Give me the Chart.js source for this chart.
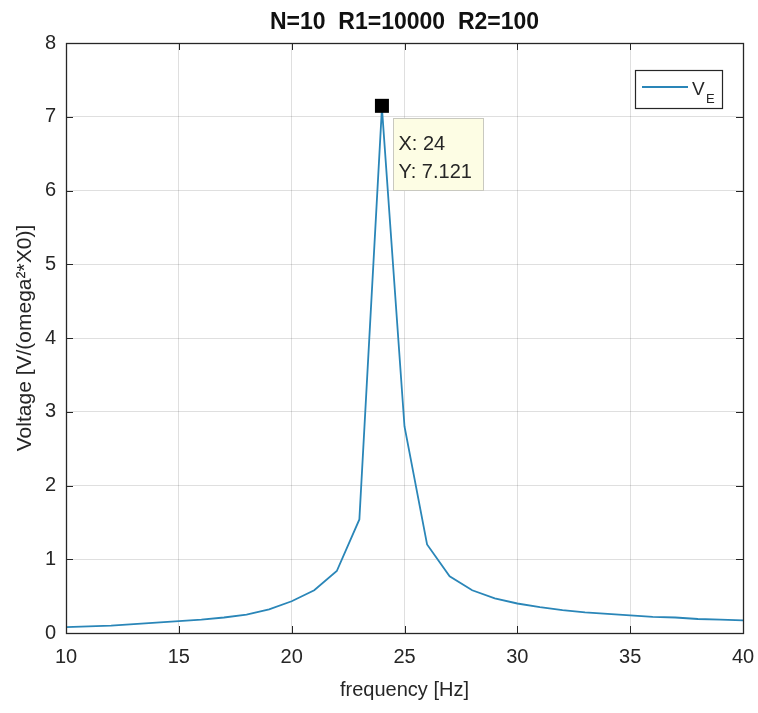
<!DOCTYPE html>
<html>
<head>
<meta charset="utf-8">
<script src="https://cdn.jsdelivr.net/npm/chart.js@4.4.1/dist/chart.umd.min.js"></script>
<style>
  html, body { margin: 0; padding: 0; background: #fff; }
</style>
</head>
<body>
<canvas id="plot" width="758" height="713"></canvas>
<script>
/* Resonance curve, MATLAB-style figure */

const chartTitle = 'N=10  R1=10000  R2=100';
const xLabel = 'frequency [Hz]';
const yLabel = 'Voltage [V/(omega\u00b2*X0)]';
const seriesName = 'V';
const seriesSub = 'E';

const frequency = [10, 11, 12, 13, 14, 15, 16, 17, 18, 19, 20, 21, 22, 23, 24, 25,
                   26, 27, 28, 29, 30, 31, 32, 33, 34, 35, 36, 37, 38, 39, 40];
const voltage   = [0.08, 0.09, 0.10, 0.12, 0.14, 0.16, 0.18, 0.21, 0.25, 0.32, 0.43, 0.58, 0.84, 1.54, 7.121, 2.80,
                   1.20, 0.77, 0.58, 0.47, 0.40, 0.35, 0.31, 0.28, 0.26, 0.24, 0.22, 0.21, 0.19, 0.18, 0.17];

const xRange = [10, 40];
const yRange = [0, 8];
const tipX = 24;
const tipY = 7.121;

const FONT = "'Liberation Sans', Arial, Helvetica, sans-serif";
const INK = '#262626';
const LINE = '#2a86b8';

const matlabFrame = {
  id: 'matlabFrame',
  afterDraw(chart) {
    const { ctx, chartArea: a, scales: { x, y } } = chart;
    ctx.save();

    // inward tick marks on all four sides
    ctx.strokeStyle = INK;
    ctx.lineWidth = 1;
    ctx.beginPath();
    x.ticks.forEach(t => {
      const px = Math.round(x.getPixelForValue(t.value)) + 0.5;
      ctx.moveTo(px, a.bottom); ctx.lineTo(px, a.bottom - 7);
      ctx.moveTo(px, a.top);    ctx.lineTo(px, a.top + 7);
    });
    y.ticks.forEach(t => {
      const py = Math.round(y.getPixelForValue(t.value)) + 0.5;
      ctx.moveTo(a.left, py);  ctx.lineTo(a.left + 7, py);
      ctx.moveTo(a.right, py); ctx.lineTo(a.right - 7, py);
    });
    ctx.stroke();

    // axes box
    ctx.lineWidth = 1.3;
    ctx.strokeRect(a.left + 0.5, a.top + 0.5, a.right - a.left, a.bottom - a.top);

    // title
    ctx.fillStyle = '#111';
    ctx.font = 'bold 23px ' + FONT;
    ctx.textAlign = 'center';
    ctx.textBaseline = 'alphabetic';
    ctx.fillText(chartTitle, (a.left + a.right) / 2, 29);

    // legend
    const lx = a.right - 108, ly = a.top + 27, lw = 87, lh = 38;
    ctx.fillStyle = '#fff';
    ctx.fillRect(lx, ly, lw, lh);
    ctx.strokeStyle = INK;
    ctx.lineWidth = 1.2;
    ctx.strokeRect(lx + 0.5, ly + 0.5, lw, lh);
    ctx.strokeStyle = LINE;
    ctx.lineWidth = 1.8;
    ctx.beginPath();
    ctx.moveTo(lx + 7, ly + 17);
    ctx.lineTo(lx + 53, ly + 17);
    ctx.stroke();
    ctx.fillStyle = INK;
    ctx.textAlign = 'left';
    ctx.font = '19px ' + FONT;
    ctx.fillText(seriesName, lx + 57, ly + 25);
    ctx.font = '13px ' + FONT;
    ctx.fillText(seriesSub, lx + 71, ly + 33);

    // data tip
    const px = x.getPixelForValue(tipX), py = y.getPixelForValue(tipY);
    ctx.fillStyle = '#000';
    ctx.fillRect(px - 7, py - 9, 14, 14);
    const bx = Math.round(px) + 11.5, by = Math.round(py) + 10.5;
    ctx.fillStyle = '#fdfde4';
    ctx.fillRect(bx, by, 90, 72);
    ctx.strokeStyle = '#c9c9c0';
    ctx.lineWidth = 1;
    ctx.strokeRect(bx, by, 90, 72);
    ctx.fillStyle = INK;
    ctx.font = '20px ' + FONT;
    ctx.fillText('X: ' + tipX, bx + 5, by + 31);
    ctx.fillText('Y: ' + tipY, bx + 5, by + 59);

    ctx.restore();
  }
};

new Chart(document.getElementById('plot'), {
  type: 'line',
  data: {
    datasets: [{
      label: seriesName + seriesSub,
      data: frequency.map((f, i) => ({ x: f, y: voltage[i] })),
      borderColor: LINE,
      borderWidth: 1.8,
      pointRadius: 0,
      tension: 0,
      fill: false
    }]
  },
  options: {
    responsive: false,
    animation: false,
    devicePixelRatio: 1,
    layout: { padding: { top: 43, right: 15, bottom: 0, left: 0 } },
    scales: {
      x: {
        type: 'linear',
        min: xRange[0], max: xRange[1],
        ticks: { stepSize: 5, padding: 12, color: INK, font: { family: FONT, size: 20 } },
        grid: { color: 'rgba(38,38,38,0.15)', drawTicks: false },
        border: { display: false },
        title: { display: true, text: xLabel, color: INK, font: { family: FONT, size: 20 }, padding: { top: 0, bottom: 11 } },
        afterFit: s => { s.height = 80; s.paddingLeft = 0; s.paddingRight = 0; }
      },
      y: {
        min: yRange[0], max: yRange[1],
        ticks: { stepSize: 1, padding: 10, color: INK, font: { family: FONT, size: 20 } },
        grid: { color: 'rgba(38,38,38,0.15)', drawTicks: false },
        border: { display: false },
        title: { display: true, text: yLabel, color: INK, font: { family: FONT, size: 21 }, padding: { top: 13, bottom: 0 } },
        afterFit: s => { s.width = 66; s.paddingTop = 0; s.paddingBottom = 0; }
      }
    },
    plugins: {
      legend: { display: false },
      title: { display: false },
      tooltip: { enabled: false }
    }
  },
  plugins: [matlabFrame]
});
</script>
</body>
</html>
